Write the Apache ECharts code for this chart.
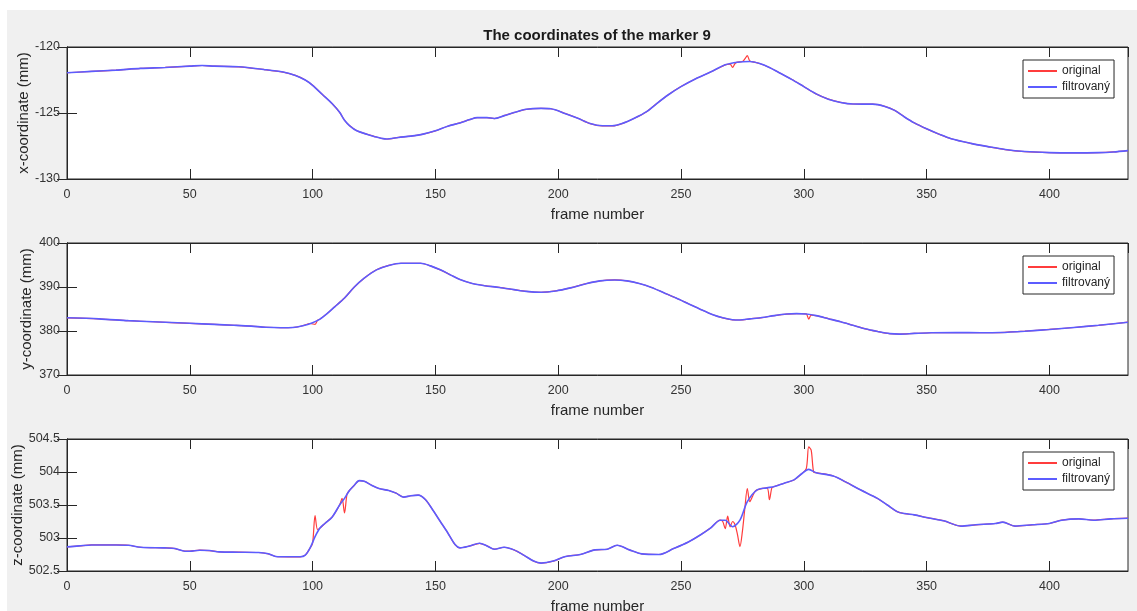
<!DOCTYPE html>
<html><head><meta charset="utf-8">
<script src="https://cdn.jsdelivr.net/npm/echarts@6/dist/echarts.min.js"></script>
<style>html,body{margin:0;padding:0;background:#fff;}#chart{position:absolute;left:7px;top:10px;width:1130px;height:601px;}</style>
</head><body><div id="chart"></div><script>
// ---- data ----
const titleText = 'The coordinates of the marker 9';
const xName = 'frame number';
const yNames = ['x-coordinate (mm)', 'y-coordinate (mm)', 'z-coordinate (mm)'];
const legendNames = ['original', 'filtrovaný'];
const frameRange = [0, 432];
const yRanges = [[-130, -120, 5], [370, 400, 10], [502.5, 504.5, 0.5]];

const xFiltered = [[0,-121.95],[10,-121.85],[20,-121.75],[30,-121.62],[40,-121.55],[50,-121.45],[55,-121.4],[60,-121.45],[70,-121.5],[80,-121.7],[88,-121.9],[93,-122.15],[97,-122.5],[100,-122.9],[104,-123.6],[108,-124.3],[111,-124.95],[113,-125.55],[115,-125.95],[118,-126.35],[122,-126.6],[126,-126.82],[130,-126.97],[135,-126.85],[140,-126.75],[145,-126.6],[150,-126.35],[155,-126.0],[160,-125.75],[164,-125.5],[167,-125.35],[171,-125.35],[174,-125.42],[178,-125.2],[182,-124.97],[187,-124.72],[193,-124.65],[197,-124.68],[203,-125.05],[208,-125.4],[213,-125.8],[218,-125.97],[222,-125.97],[226,-125.8],[231,-125.4],[236,-124.9],[240,-124.3],[245,-123.6],[250,-123.0],[256,-122.4],[262,-121.9],[268,-121.35],[273,-121.15],[278,-121.1],[282,-121.25],[286,-121.55],[290,-121.95],[295,-122.45],[300,-123.0],[305,-123.55],[310,-123.95],[315,-124.2],[320,-124.32],[328,-124.33],[333,-124.5],[337,-124.8],[341,-125.3],[345,-125.75],[350,-126.2],[355,-126.6],[360,-126.95],[368,-127.3],[375,-127.55],[382,-127.77],[390,-127.92],[400,-128.0],[410,-128.02],[420,-128.0],[426,-127.95],[432,-127.85]];
const xOriginalSpikes = [
  [[268,-121.35],[270,-121.3],[271,-121.55],[272,-121.25],[273,-121.15],[275,-121.1],[276,-120.9],[277,-120.65],[278,-121.05],[280,-121.15]]
];

const yFiltered = [[0,383.0],[13,382.75],[25,382.35],[35,382.1],[50,381.75],[60,381.5],[68,381.3],[75,381.1],[81,380.85],[87,380.75],[92,380.8],[96,381.2],[100,381.9],[103,382.7],[106,384.0],[109,385.5],[113,387.5],[117,390.0],[121,392.0],[126,393.9],[131,394.9],[136,395.4],[144,395.4],[148,394.8],[152,393.9],[156,392.8],[160,391.7],[165,390.8],[170,390.3],[176,389.9],[182,389.4],[187,389.0],[193,388.8],[199,389.1],[205,389.8],[211,390.7],[217,391.4],[223,391.6],[228,391.4],[233,390.8],[238,389.9],[243,388.7],[248,387.5],[253,386.2],[258,384.9],[263,383.7],[267,383.0],[271,382.55],[274,382.5],[278,382.75],[283,383.05],[288,383.5],[293,383.85],[297,383.95],[301,383.85],[305,383.5],[310,382.8],[315,382.1],[320,381.3],[325,380.5],[330,379.9],[335,379.4],[339,379.3],[345,379.45],[352,379.6],[362,379.65],[372,379.6],[380,379.65],[390,379.95],[400,380.35],[410,380.8],[420,381.3],[432,382.0]];
const yOriginalSpikes = [
  [[99,381.7],[101,381.5],[102,382.4]],
  [[299,383.95],[301,383.9],[302,382.7],[303,383.6],[305,383.5]]
];

const zFiltered = [[0,502.865],[5,502.88],[10,502.895],[20,502.895],[25,502.89],[30,502.86],[40,502.85],[44,502.84],[48,502.8],[50,502.8],[54,502.815],[58,502.81],[62,502.79],[70,502.785],[78,502.78],[82,502.76],[85,502.72],[90,502.715],[95,502.715],[97,502.74],[99,502.85],[101,503.02],[103,503.15],[105,503.22],[108,503.32],[111,503.5],[113,503.6],[115,503.72],[117,503.8],[119,503.87],[121,503.86],[124,503.8],[127,503.75],[131,503.72],[134,503.68],[137,503.62],[140,503.64],[143,503.65],[146,503.58],[149,503.42],[152,503.25],[155,503.08],[158,502.9],[160,502.85],[164,502.88],[168,502.92],[171,502.88],[174,502.83],[178,502.86],[182,502.82],[186,502.74],[190,502.65],[193,502.62],[198,502.65],[203,502.72],[209,502.75],[215,502.82],[220,502.83],[224,502.89],[229,502.82],[234,502.76],[241,502.75],[247,502.84],[253,502.94],[258,503.05],[262,503.15],[266,503.27],[268,503.27],[271,503.17],[274,503.27],[277,503.55],[281,503.73],[285,503.76],[288,503.78],[292,503.83],[296,503.88],[299,503.97],[302,504.04],[305,503.99],[312,503.94],[317,503.85],[323,503.73],[330,503.6],[334,503.5],[338,503.4],[341,503.37],[345,503.35],[350,503.31],[357,503.26],[364,503.18],[370,503.2],[378,503.22],[381,503.24],[386,503.18],[393,503.2],[400,503.22],[405,503.27],[412,503.29],[418,503.27],[425,503.29],[432,503.3]];
const zOriginalSpikes = [
  [[99,502.85],[100,502.92],[101,503.34],[102,503.13],[103,503.15]],
  [[111,503.5],[112,503.6],[113,503.38],[114,503.66],[115,503.72]],
  [[266,503.27],[267,503.25],[268,503.14],[269,503.33],[270,503.17],[271,503.25],[272,503.2],[273,503.05],[274,502.87],[275,503.1],[276,503.45],[277,503.75],[278,503.55],[279,503.62],[280,503.7],[281,503.73]],
  [[285,503.76],[286,503.58],[287,503.76]],
  [[299,503.97],[301,504.05],[302,504.38],[303,504.33],[304,504.0],[305,503.99]]
];

// ---- build ----
function buildOriginal(filtered, groups) {
  let pts = filtered.slice();
  groups.forEach(g => {
    const lo = g[0][0], hi = g[g.length - 1][0];
    pts = pts.filter(p => p[0] < lo || p[0] > hi).concat(g);
  });
  return pts.sort((a, b) => a[0] - b[0]);
}
const filteredSets = [xFiltered, yFiltered, zFiltered];
const originalSets = [
  buildOriginal(xFiltered, xOriginalSpikes),
  buildOriginal(yFiltered, yOriginalSpikes),
  buildOriginal(zFiltered, zOriginalSpikes)
];

const FONT = 'Liberation Sans, Arial, sans-serif';
const AX = '#262626';
const gridTops = [37, 233, 429];
const nameGaps = [36, 33, 42];
const grids = gridTops.map(t => ({left: 60, top: t, width: 1061, height: 132, show: true,
  backgroundColor: '#fff', borderColor: AX, borderWidth: 1, containLabel: false, outerBoundsMode: 'none'}));
const tick = {show: true, inside: true, length: 10, lineStyle: {color: AX, width: 1}};
const xAxes = [], yAxes = [], series = [], legends = [];
gridTops.forEach((t, i) => {
  xAxes.push({type: 'value', gridIndex: i, min: frameRange[0], max: frameRange[1], interval: 50,
    position: 'bottom', name: xName, nameLocation: 'middle', nameGap: 28, nameMoveOverlap: false,
    nameTextStyle: {fontSize: 15, color: AX, fontFamily: FONT},
    axisLine: {show: true, lineStyle: {color: AX}}, axisTick: tick, splitLine: {show: false},
    axisLabel: {fontSize: 12.5, color: '#333', fontFamily: FONT, margin: 9, showMaxLabel: false}});
  xAxes.push({type: 'value', gridIndex: i, min: frameRange[0], max: frameRange[1], interval: 50,
    position: 'top', axisLine: {show: true, lineStyle: {color: AX}}, axisTick: tick,
    splitLine: {show: false}, axisLabel: {show: false}});
  const r = yRanges[i];
  yAxes.push({type: 'value', gridIndex: i, min: r[0], max: r[1], interval: r[2], position: 'left',
    name: yNames[i], nameLocation: 'middle', nameGap: nameGaps[i], nameMoveOverlap: false,
    nameTextStyle: {fontSize: 15, color: AX, fontFamily: FONT},
    axisLine: {show: true, lineStyle: {color: AX}}, axisTick: tick, splitLine: {show: false},
    axisLabel: {fontSize: 12.5, color: '#333', fontFamily: FONT, margin: 7}});
  yAxes.push({type: 'value', gridIndex: i, min: r[0], max: r[1], interval: r[2], position: 'right',
    axisLine: {show: true, lineStyle: {color: AX}}, axisTick: tick,
    splitLine: {show: false}, axisLabel: {show: false}});
  series.push({type: 'line', name: legendNames[0], xAxisIndex: 2 * i, yAxisIndex: 2 * i,
    data: originalSets[i], symbol: 'none', smooth: 0.3, z: 2, animation: false,
    itemStyle: {color: '#ff3c3c'}, lineStyle: {color: '#ff3c3c', width: 1.2}});
  series.push({type: 'line', name: legendNames[1], xAxisIndex: 2 * i, yAxisIndex: 2 * i,
    data: filteredSets[i], symbol: 'none', smooth: 0.3, z: 3, animation: false,
    itemStyle: {color: '#5c5cff'}, lineStyle: {color: '#5c5cff', width: 1.6}});
  legends.push({orient: 'vertical', left: 1016, top: t + 13, data: legendNames.map(n => ({name: n, icon: 'rect'})),
    backgroundColor: '#fff', borderColor: AX, borderWidth: 1, borderRadius: 0,
    padding: [4, 4, 4, 5], itemGap: 2, itemWidth: 29, itemHeight: 2, selectedMode: false,
    textStyle: {fontSize: 12, color: AX, fontFamily: FONT, lineHeight: 14}});
});

const chart = echarts.init(document.getElementById('chart'));
chart.setOption({
  backgroundColor: '#f0f0f0',
  animation: false,
  title: {text: titleText, left: 590, top: 18, textAlign: 'center', padding: 0,
    textStyle: {fontSize: 15, fontWeight: 'bold', color: '#1a1a1a', fontFamily: FONT}},
  grid: grids, xAxis: xAxes, yAxis: yAxes, legend: legends, series: series
});
</script></body></html>
